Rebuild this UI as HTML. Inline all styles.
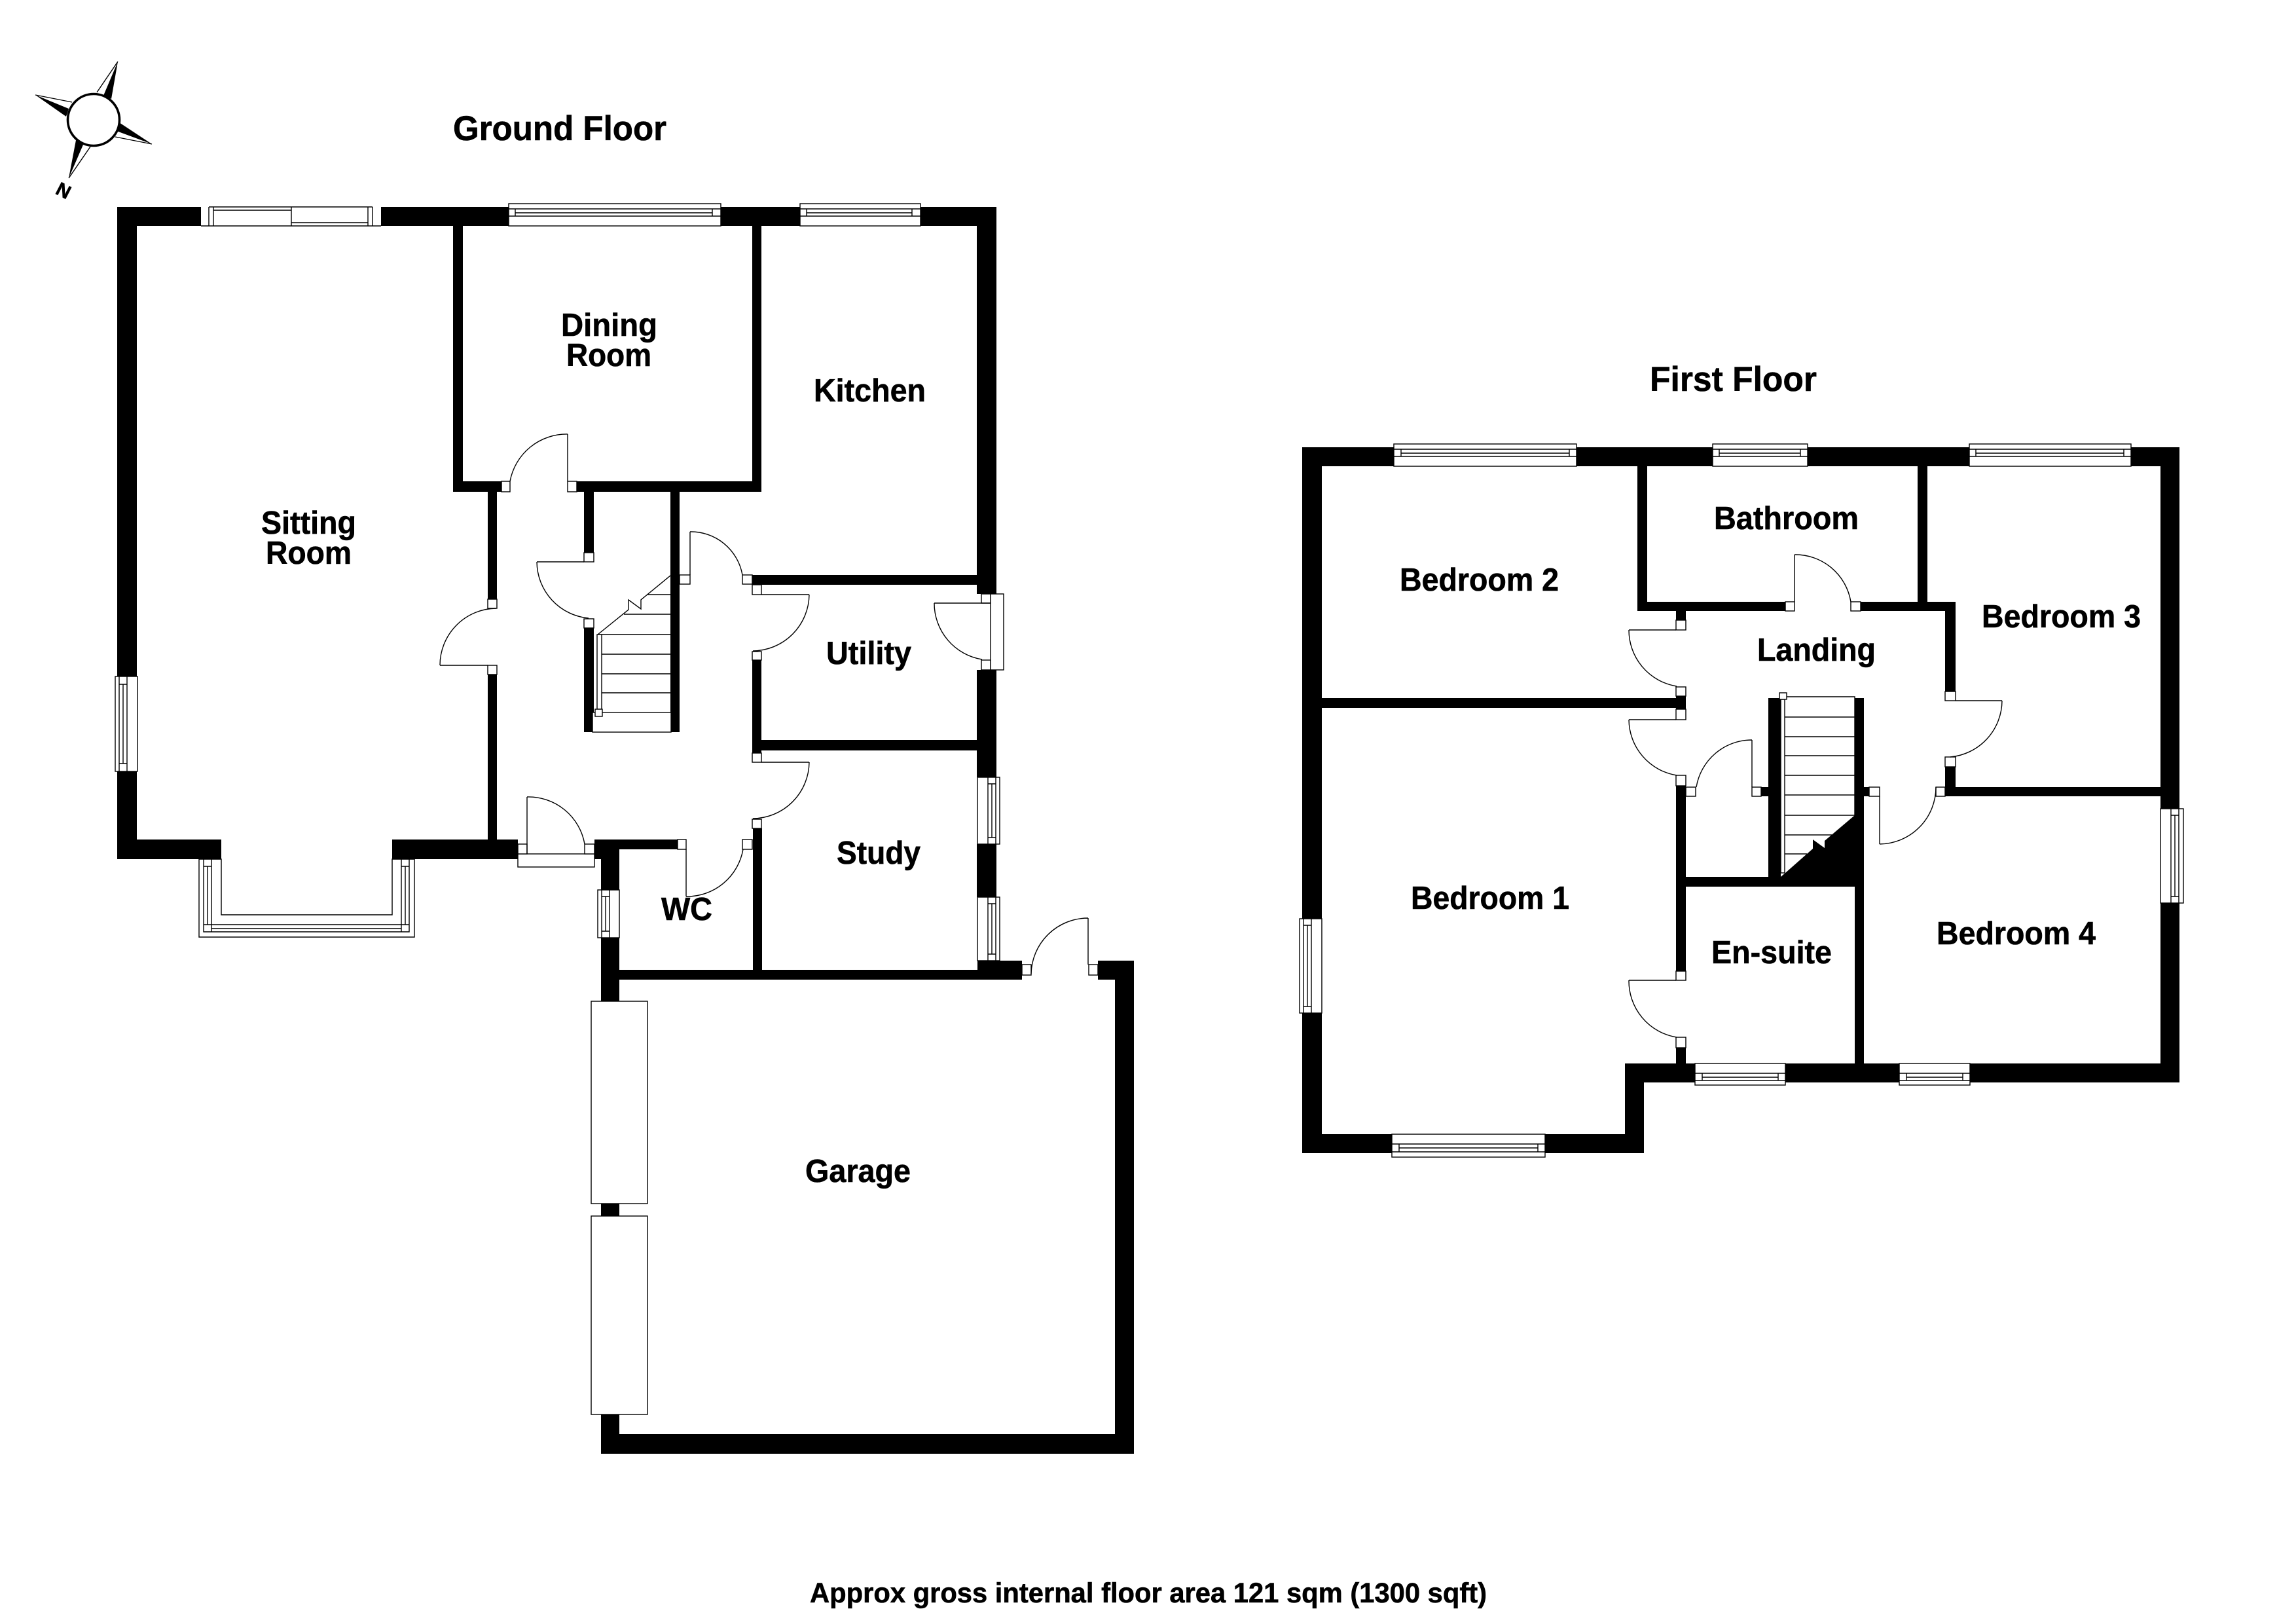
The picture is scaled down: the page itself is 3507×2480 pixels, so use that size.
<!DOCTYPE html>
<html><head><meta charset="utf-8"><title>Floor plan</title>
<style>
html,body{margin:0;padding:0;background:#fff}
svg{display:block}
.w{fill:#000}
.l{fill:#fff;stroke:#000;stroke-width:1.4}
.a{fill:none;stroke:#000;stroke-width:1.4}
text{font-family:"Liberation Sans",sans-serif;font-weight:bold;fill:#000;font-size:49px;stroke:#000;stroke-width:.6}
</style></head><body>
<svg xmlns="http://www.w3.org/2000/svg" width="3507" height="2480" viewBox="0 0 3507 2480">
<rect width="3507" height="2480" fill="#fff"/>

<!-- compass -->
<g>
<polygon class="w" points="180,94 158,146 170,151"/><line class="a" x1="180" y1="94" x2="148" y2="141"/>
<polygon class="w" points="54,145 105,166 101,178"/><line class="a" x1="54" y1="145" x2="110" y2="156"/>
<polygon class="w" points="232,220 182,187 178,200"/><line class="a" x1="232" y1="220" x2="176" y2="209"/>
<polygon class="w" points="105,272 116,214 127,221"/><line class="a" x1="105" y1="272" x2="138" y2="224"/>
<circle cx="143" cy="183" r="39.5" fill="#fff" stroke="#000" stroke-width="3.6"/>
<text transform="translate(97,291) rotate(207)" x="0" y="10" text-anchor="middle" style="font-size:29px">N</text>
</g>

<!-- GROUND FLOOR walls -->
<g class="w">
<rect x="179" y="316" width="1343" height="29"/>
<rect x="179" y="316" width="30" height="996"/>
<rect x="179" y="1282" width="159" height="30"/>
<rect x="599" y="1282" width="192" height="30"/>
<rect x="745" y="751" width="14" height="164"/>
<rect x="745" y="1030" width="14" height="252"/>
<rect x="692" y="345" width="15" height="406"/>
<rect x="692" y="735" width="74" height="16"/>
<rect x="881" y="735" width="282" height="16"/>
<rect x="1149" y="345" width="14" height="406"/>
<rect x="1492" y="316" width="30" height="591"/>
<rect x="1492" y="1023" width="30" height="164"/>
<rect x="1492" y="1289" width="30" height="81"/>
<rect x="1493" y="1467" width="68" height="29"/>
<rect x="892" y="751" width="15" height="93"/>
<rect x="892" y="959" width="15" height="159"/>
<rect x="1024" y="751" width="14" height="367"/>
<rect x="1149" y="878" width="343" height="15"/>
<rect x="1149" y="1008" width="14" height="142"/>
<rect x="1149" y="1130" width="343" height="16"/>
<rect x="1150" y="1265" width="14" height="216"/>
<rect x="908" y="1282" width="127" height="15"/>
<rect x="908" y="1282" width="38" height="30"/>
<rect x="918" y="1282" width="28" height="247"/>
<rect x="918" y="1838" width="28" height="19"/>
<rect x="918" y="2160" width="28" height="60"/>
<rect x="918" y="2190" width="814" height="30"/>
<rect x="1703" y="1467" width="29" height="753"/>
<rect x="1677" y="1467" width="55" height="29"/>
<rect x="946" y="1481" width="615" height="15"/>
</g>

<!-- ground floor windows -->
<g>
<rect class="l" x="307" y="316" width="275" height="29" style="stroke:none"/>
<path class="a" d="M319,316H569M307,345H582M319,316V345M326,316V345M445,316V345M562,316V345M569,316V345M326,321H445M445,340H562"/>
<rect class="l" x="777" y="311" width="324" height="34"/>
<path class="a" d="M777,319H1101M787,325H1088M777,330H1101M787,319V330M1088,319V330"/>
<rect class="l" x="1222" y="311" width="184" height="34"/>
<path class="a" d="M1222,319H1406M1232,325H1393M1222,330H1406M1232,319V330M1393,319V330"/>
<rect class="l" x="176" y="1033" width="34" height="145"/>
<path class="a" d="M182,1033V1178M194,1033V1178M188,1045V1166M182,1045H194M182,1166H194"/>
<!-- bay -->
<path class="l" d="M304,1312V1431H633V1312H599V1397H338V1312Z"/>
<path class="a" d="M311,1312V1423H625V1312M323,1312V1423M613,1312V1423M311,1323H323M613,1323H625M317,1323V1412M619,1323V1412M311,1412H625M323,1418H613"/>
<!-- right wall windows -->
<rect class="l" x="1493" y="1187" width="34" height="102"/>
<path class="a" d="M1509,1187V1289M1521,1187V1289M1515,1197V1279M1509,1197H1521M1509,1279H1521"/>
<rect class="l" x="1493" y="1370" width="34" height="97"/>
<path class="a" d="M1509,1370V1467M1521,1370V1467M1515,1380V1457M1509,1380H1521M1509,1457H1521"/>
<!-- WC window -->
<rect class="l" x="913" y="1359" width="33" height="73"/>
<path class="a" d="M919,1359V1432M931,1359V1432M925,1369V1422M919,1369H931M919,1422H931"/>
<!-- utility side door panel -->
<rect class="l" x="1513" y="907" width="20" height="116"/>
<rect class="l" x="1499" y="907" width="14" height="14"/>
<rect class="l" x="1499" y="1008" width="14" height="15"/>
<path class="a" d="M1427,921H1513M1427,921A87,87 0 0 0 1500,1007"/>
<!-- garage doors -->
<rect class="l" x="903" y="1529" width="86" height="309"/>
<rect class="l" x="903" y="1857" width="86" height="303"/>
<!-- front door -->
<rect class="l" x="791" y="1304" width="117" height="20"/>
<rect class="l" x="791" y="1289" width="14" height="15"/>
<rect class="l" x="893" y="1289" width="15" height="15"/>
</g>

<!-- ground floor door jambs -->
<g class="l">
<rect x="766" y="735" width="13" height="16"/>
<rect x="867" y="735" width="14" height="16"/>
<rect x="892" y="844" width="15" height="14"/>
<rect x="892" y="945" width="15" height="14"/>
<rect x="745" y="915" width="14" height="14"/>
<rect x="745" y="1016" width="14" height="14"/>
<rect x="1038" y="878" width="16" height="14"/>
<rect x="1134" y="878" width="15" height="14"/>
<rect x="1149" y="893" width="14" height="15"/>
<rect x="1149" y="995" width="14" height="13"/>
<rect x="1149" y="1150" width="14" height="14"/>
<rect x="1149" y="1251" width="14" height="14"/>
<rect x="1134" y="1282" width="15" height="15"/>
<rect x="1035" y="1282" width="13" height="15"/>
<rect x="1561" y="1473" width="14" height="16"/>
<rect x="1663" y="1473" width="14" height="16"/>
</g>

<!-- ground floor door leaves and arcs -->
<path class="a" d="M867,663V735M867,663A88,88 0 0 0 779,735
M820,858H892M820,858A87,87 0 0 0 899,944
M672,1016H745M672,1016A87,87 0 0 1 758,929
M1054,812V878M1054,812A80,80 0 0 1 1134,878
M1236,908H1163M1236,908A87,87 0 0 1 1150,994
M1236,1164H1163M1236,1164A87,87 0 0 1 1150,1250
M1048,1297V1369M1048,1369A87,87 0 0 0 1135,1297
M805,1217V1304M805,1217A87,87 0 0 1 893,1289
M1662,1402V1473M1662,1402A87,87 0 0 0 1575,1487"/>

<!-- ground floor stairs -->
<rect class="l" x="905" y="1088" width="120" height="30"/>
<path class="a" d="M919,1058H1024M919,1029H1024M919,999H1024M913,969H1024M953,938H1024M989,908H1024
M913,969L960,931V916L979,930V916L1024,879"/>
<rect class="l" x="912" y="969" width="7" height="114"/>
<rect class="l" x="909" y="1083" width="11" height="11"/>

<!-- FIRST FLOOR walls -->
<g class="w">
<rect x="1989" y="683" width="1340" height="29"/>
<rect x="1989" y="683" width="30" height="1078"/>
<rect x="1989" y="1732" width="522" height="29"/>
<rect x="2482" y="1624" width="29" height="137"/>
<rect x="2482" y="1624" width="847" height="29"/>
<rect x="3300" y="683" width="29" height="970"/>
<rect x="2501" y="712" width="15" height="221"/>
<rect x="2501" y="919" width="226" height="14"/>
<rect x="2842" y="919" width="145" height="14"/>
<rect x="2929" y="712" width="15" height="221"/>
<rect x="2971" y="919" width="16" height="137"/>
<rect x="2971" y="1171" width="16" height="45"/>
<rect x="2971" y="1202" width="329" height="14"/>
<rect x="2560" y="933" width="15" height="14"/>
<rect x="2560" y="1063" width="15" height="20"/>
<rect x="2019" y="1066" width="556" height="15"/>
<rect x="2560" y="1200" width="15" height="283"/>
<rect x="2560" y="1600" width="15" height="24"/>
<rect x="2560" y="1339" width="287" height="15"/>
<rect x="2701" y="1066" width="19" height="288"/>
<rect x="2833" y="1066" width="14" height="288"/>
<rect x="2833" y="1354" width="14" height="270"/>
<rect x="2690" y="1202" width="11" height="14"/>
<rect x="2847" y="1202" width="8" height="14"/>
<polygon points="2833,1245 2787,1284 2787,1295 2769,1282 2769,1296 2727,1333 2720,1339 2720,1354 2847,1354 2847,1245"/>
</g>

<!-- first floor windows -->
<g>
<rect class="l" x="2129" y="678" width="279" height="34"/>
<path class="a" d="M2129,686H2408M2140,692H2397M2129,697H2408M2140,686V697M2397,686V697"/>
<rect class="l" x="2616" y="678" width="145" height="34"/>
<path class="a" d="M2616,686H2761M2626,692H2750M2616,697H2761M2626,686V697M2750,686V697"/>
<rect class="l" x="3008" y="678" width="247" height="34"/>
<path class="a" d="M3008,686H3255M3018,692H3244M3008,697H3255M3018,686V697M3244,686V697"/>
<rect class="l" x="2126" y="1732" width="234" height="35"/>
<path class="a" d="M2126,1747H2360M2137,1753H2349M2126,1759H2360M2137,1747V1759M2349,1747V1759"/>
<rect class="l" x="2589" y="1624" width="138" height="33"/>
<path class="a" d="M2589,1639H2727M2600,1645H2716M2589,1650H2727M2600,1639V1650M2716,1639V1650"/>
<rect class="l" x="2901" y="1624" width="108" height="33"/>
<path class="a" d="M2901,1639H3009M2912,1645H2998M2901,1650H3009M2912,1639V1650M2998,1639V1650"/>
<rect class="l" x="1985" y="1403" width="34" height="144"/>
<path class="a" d="M1991,1403V1547M2003,1403V1547M1997,1413V1537M1991,1413H2003M1991,1537H2003"/>
<rect class="l" x="3300" y="1235" width="35" height="144"/>
<path class="a" d="M3316,1235V1379M3328,1235V1379M3322,1245V1369M3316,1245H3328M3316,1369H3328"/>
</g>

<!-- first floor door jambs -->
<g class="l">
<rect x="2727" y="919" width="14" height="14"/>
<rect x="2827" y="919" width="15" height="14"/>
<rect x="2560" y="947" width="15" height="15"/>
<rect x="2560" y="1049" width="15" height="14"/>
<rect x="2560" y="1083" width="15" height="16"/>
<rect x="2560" y="1184" width="15" height="16"/>
<rect x="2575" y="1202" width="15" height="14"/>
<rect x="2676" y="1202" width="14" height="14"/>
<rect x="2855" y="1202" width="16" height="14"/>
<rect x="2957" y="1202" width="14" height="14"/>
<rect x="2971" y="1056" width="16" height="14"/>
<rect x="2971" y="1156" width="16" height="15"/>
<rect x="2560" y="1483" width="15" height="14"/>
<rect x="2560" y="1584" width="15" height="16"/>
</g>

<!-- first floor door leaves and arcs -->
<path class="a" d="M2741,847V919M2741,847A86,86 0 0 1 2827,919
M2488,962H2560M2488,962A87,87 0 0 0 2561,1048
M2488,1099H2560M2488,1099A87,87 0 0 0 2561,1184
M2488,1497H2560M2488,1497A87,87 0 0 0 2561,1584
M2676,1130V1202M2676,1130A86,86 0 0 0 2591,1202
M3058,1070H2987M3058,1070A87,87 0 0 1 2979,1156
M2871,1216V1289M2871,1289A87,87 0 0 0 2957,1202"/>

<!-- first floor stairs -->
<path class="a" d="M2726,1064H2833V1245M2726,1095H2833M2726,1125H2833M2726,1154H2833M2726,1184H2833M2726,1214H2833M2726,1245H2833M2726,1275H2798M2726,1304H2760"/>
<rect class="l" x="2720" y="1068" width="6" height="265"/>
<rect class="l" x="2718" y="1058" width="11" height="10"/>

<!-- labels -->
<text x="692" y="214" textLength="326" lengthAdjust="spacingAndGlyphs" style="font-size:53px">Ground Floor</text>
<text x="2520" y="597" textLength="255" lengthAdjust="spacingAndGlyphs" style="font-size:53px">First Floor</text>
<text x="857" y="513" textLength="147" lengthAdjust="spacingAndGlyphs">Dining</text>
<text x="865" y="559" textLength="130" lengthAdjust="spacingAndGlyphs">Room</text>
<text x="1243" y="613" textLength="171" lengthAdjust="spacingAndGlyphs">Kitchen</text>
<text x="399" y="815" textLength="145" lengthAdjust="spacingAndGlyphs">Sitting</text>
<text x="406" y="861" textLength="131" lengthAdjust="spacingAndGlyphs">Room</text>
<text x="1262" y="1014" textLength="130" lengthAdjust="spacingAndGlyphs">Utility</text>
<text x="1278" y="1319" textLength="128" lengthAdjust="spacingAndGlyphs">Study</text>
<text x="1010" y="1405" textLength="78" lengthAdjust="spacingAndGlyphs">WC</text>
<text x="1230" y="1805" textLength="161" lengthAdjust="spacingAndGlyphs">Garage</text>
<text x="2138" y="902" textLength="243" lengthAdjust="spacingAndGlyphs">Bedroom 2</text>
<text x="2618" y="808" textLength="221" lengthAdjust="spacingAndGlyphs">Bathroom</text>
<text x="3027" y="958" textLength="243" lengthAdjust="spacingAndGlyphs">Bedroom 3</text>
<text x="2684" y="1009" textLength="181" lengthAdjust="spacingAndGlyphs">Landing</text>
<text x="2155" y="1388" textLength="242" lengthAdjust="spacingAndGlyphs">Bedroom 1</text>
<text x="2958" y="1442" textLength="243" lengthAdjust="spacingAndGlyphs">Bedroom 4</text>
<text x="2614" y="1471" textLength="184" lengthAdjust="spacingAndGlyphs">En-suite</text>
<text x="1237" y="2447" textLength="1034" lengthAdjust="spacingAndGlyphs" style="font-size:43px">Approx gross internal floor area 121 sqm (1300 sqft)</text>
</svg>
</body></html>
